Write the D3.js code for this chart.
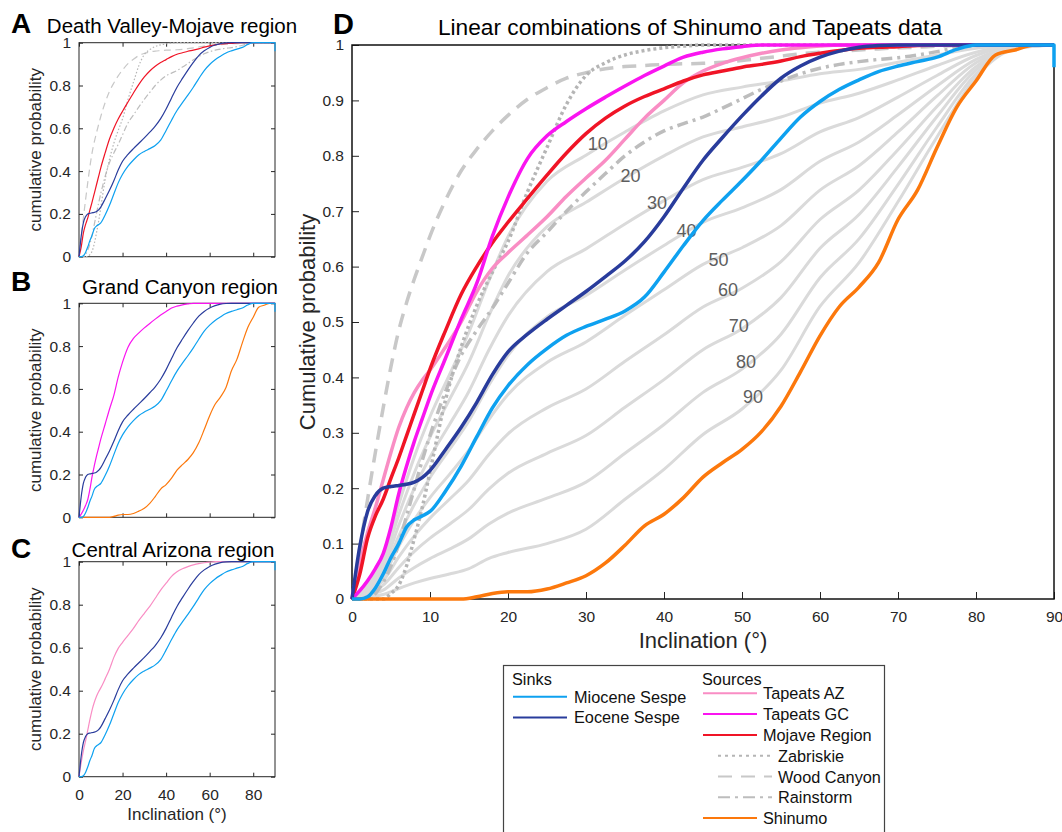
<!DOCTYPE html>
<html>
<head>
<meta charset="utf-8">
<script src="https://cdn.jsdelivr.net/npm/d3@7"></script>
<style>
  body { margin: 0; background: #fff; }
  svg text { font-family: "Liberation Sans", Arial, Helvetica, sans-serif; }
</style>
</head>
<body>
<svg id="chart" width="1062" height="832"></svg>
<script>
// inclination grid (degrees) for the measured CDFs
var inclination = [0,1,2,3,4,5,6,7,8,9,10,12,14,16,18,20,22.5,25,27.5,30,32.5,35,37.5,40,42.5,45,47.5,50,52.5,55,57.5,60,62.5,65,67.5,70,72.5,75,77.5,80,82.5,85,87.5,90];

// sinks
var mioceneSespe = [0,0,0.004,0.02,0.045,0.075,0.1,0.13,0.143,0.15,0.158,0.195,0.24,0.293,0.345,0.385,0.423,0.452,0.476,0.492,0.505,0.52,0.545,0.59,0.638,0.683,0.72,0.755,0.792,0.832,0.87,0.898,0.92,0.937,0.952,0.962,0.97,0.978,0.992,1,1,1,1,1];
var mioceneEnd = 0.96;
var eoceneSespe = [0,0.095,0.158,0.187,0.2,0.203,0.205,0.207,0.211,0.219,0.232,0.27,0.31,0.355,0.405,0.446,0.478,0.505,0.53,0.555,0.582,0.61,0.645,0.69,0.742,0.792,0.833,0.872,0.908,0.94,0.962,0.978,0.989,0.996,0.999,1,1,1,1,1,1,1,1,1];

// sources
var tapeatsAZ = [0,0.065,0.12,0.165,0.215,0.265,0.31,0.345,0.373,0.395,0.413,0.455,0.5,0.555,0.597,0.625,0.657,0.69,0.727,0.76,0.792,0.83,0.868,0.9,0.932,0.953,0.967,0.977,0.985,0.991,0.995,0.998,1,1,1,1,1,1,1,1,1,1,1,1];
var tapeatsGC = [0,0.015,0.033,0.055,0.082,0.13,0.19,0.24,0.285,0.325,0.365,0.435,0.505,0.57,0.655,0.725,0.795,0.836,0.862,0.885,0.906,0.926,0.945,0.962,0.978,0.987,0.993,0.997,1,1,1,1,1,1,1,1,1,1,1,1,1,1,1,1];
var mojaveRegion = [0,0.045,0.11,0.15,0.18,0.218,0.255,0.295,0.335,0.375,0.415,0.485,0.55,0.6,0.643,0.68,0.723,0.765,0.805,0.84,0.868,0.89,0.907,0.921,0.935,0.946,0.953,0.96,0.965,0.971,0.979,0.985,0.99,0.994,0.996,0.997,0.999,1,1,1,1,1,1,1];
var zabriskie = [0,0,0,0,0,0.01,0.025,0.06,0.11,0.165,0.23,0.36,0.455,0.53,0.59,0.645,0.735,0.815,0.893,0.945,0.968,0.982,0.99,0.995,0.998,1,1,1,1,1,1,1,1,1,1,1,1,1,1,1,1,1,1,1];
var woodCanyon = [0,0.09,0.18,0.265,0.345,0.42,0.485,0.535,0.578,0.617,0.655,0.72,0.773,0.812,0.845,0.873,0.902,0.923,0.94,0.95,0.957,0.961,0.963,0.965,0.966,0.967,0.969,0.972,0.976,0.98,0.984,0.987,0.989,0.991,0.993,0.995,0.996,0.998,0.999,1,1,1,1,1];
var rainstorm = [0,0,0,0.01,0.03,0.06,0.1,0.15,0.2,0.25,0.295,0.375,0.44,0.485,0.525,0.57,0.625,0.662,0.7,0.735,0.768,0.8,0.825,0.845,0.858,0.87,0.886,0.903,0.92,0.935,0.948,0.958,0.965,0.97,0.974,0.977,0.982,0.988,0.995,0.999,1,1,1,1];
var shinumo = [0,0,0,0,0,0,0,0,0,0,0,0,0,0.004,0.01,0.013,0.013,0.018,0.029,0.042,0.065,0.097,0.132,0.153,0.183,0.22,0.246,0.27,0.302,0.348,0.41,0.475,0.528,0.563,0.607,0.685,0.738,0.815,0.887,0.935,0.982,0.991,1,1];

// linear combinations of Shinumo and Tapeats (percent Shinumo)
var mixInclination = [0,2,4,6,8,10,12.5,15,17.5,20,25,30,35,40,45,50,55,60,65,70,75,80,85,90];
var mix10 = [0,0.032,0.074,0.171,0.257,0.329,0.405,0.482,0.573,0.654,0.754,0.801,0.843,0.881,0.91,0.924,0.935,0.948,0.956,0.969,0.982,0.994,0.999,1];
var mix20 = [0,0.028,0.066,0.152,0.228,0.292,0.36,0.428,0.51,0.583,0.672,0.716,0.76,0.8,0.834,0.852,0.87,0.895,0.913,0.937,0.963,0.987,0.998,1];
var mix30 = [0,0.025,0.057,0.133,0.2,0.256,0.315,0.375,0.448,0.511,0.591,0.632,0.677,0.719,0.757,0.779,0.804,0.843,0.869,0.906,0.945,0.981,0.998,1];
var mix40 = [0,0.021,0.049,0.114,0.171,0.219,0.27,0.322,0.385,0.44,0.509,0.548,0.594,0.638,0.68,0.706,0.739,0.79,0.825,0.874,0.926,0.974,0.997,1];
var mix50 = [0,0.018,0.041,0.095,0.143,0.183,0.225,0.269,0.323,0.369,0.427,0.464,0.512,0.558,0.604,0.634,0.674,0.738,0.782,0.843,0.908,0.968,0.996,1];
var mix60 = [0,0.014,0.033,0.076,0.114,0.146,0.18,0.215,0.26,0.298,0.345,0.379,0.429,0.477,0.527,0.561,0.609,0.685,0.738,0.811,0.889,0.961,0.995,1];
var mix70 = [0,0.011,0.025,0.057,0.086,0.11,0.135,0.162,0.198,0.227,0.263,0.295,0.346,0.396,0.45,0.488,0.544,0.633,0.694,0.78,0.871,0.955,0.994,1];
var mix80 = [0,0.007,0.016,0.038,0.057,0.073,0.09,0.109,0.135,0.155,0.182,0.211,0.263,0.315,0.373,0.415,0.478,0.58,0.65,0.748,0.852,0.948,0.994,1];
var mix90 = [0,0.004,0.008,0.019,0.029,0.037,0.045,0.055,0.073,0.084,0.1,0.126,0.18,0.234,0.297,0.343,0.413,0.528,0.607,0.717,0.834,0.942,0.993,1];
var mixLabels = ["10","20","30","40","50","60","70","80","90"];
var mixLabelIncl = [31.5,35.7,39.1,42.9,47,48.2,49.6,50.5,51.4];
var mixLabelProb = [0.822,0.765,0.715,0.666,0.613,0.558,0.493,0.429,0.365];

// ticks
var probTicksD = [0,0.1,0.2,0.3,0.4,0.5,0.6,0.7,0.8,0.9,1];
var inclTicksD = [0,10,20,30,40,50,60,70,80,90];
var probTicksSmall = [0,0.2,0.4,0.6,0.8,1];
var inclTicksSmall = [0,20,40,60,80];

var legendSinks = ["miocene","eocene"];
var legendSources = ["tapeatsAZ","tapeatsGC","mojave","zabriskie","woodCanyon","rainstorm","shinumo"];

var series = {
  miocene:   { name: "Miocene Sespe", values: mioceneSespe, color: "#0ea1f0", gray: false },
  eocene:    { name: "Eocene Sespe",  values: eoceneSespe,  color: "#293c9c", gray: false },
  tapeatsAZ: { name: "Tapeats AZ",    values: tapeatsAZ,    color: "#f98dc4", gray: false },
  tapeatsGC: { name: "Tapeats GC",    values: tapeatsGC,    color: "#fa14f0", gray: false },
  mojave:    { name: "Mojave Region", values: mojaveRegion, color: "#f01426", gray: false },
  zabriskie: { name: "Zabriskie",     values: zabriskie,    color: "#b5b5b5", gray: true, dash: [3, 3],  dashS: [1.5, 2] },
  woodCanyon:{ name: "Wood Canyon",   values: woodCanyon,   color: "#c8c8c8", gray: true, dash: [14, 9], dashS: [7, 4.5] },
  rainstorm: { name: "Rainstorm",     values: rainstorm,    color: "#bdbdbd", gray: true, dash: [11, 5, 3, 5], dashS: [6, 2.5, 1.5, 2.5] },
  shinumo:   { name: "Shinumo",       values: shinumo,      color: "#fc780c", gray: false }
};
var mixes = [mix10, mix20, mix30, mix40, mix50, mix60, mix70, mix80, mix90];

var svg = d3.select("#chart");

function pairs(xs, ys) {
  return xs.map(function (d, i) { return [d, ys[i]]; });
}

function drawPanel(p) {
  var g = svg.append("g");
  var x = d3.scaleLinear().domain([0, 90]).range([p.left, p.right]);
  var y = d3.scaleLinear().domain([0, 1]).range([p.bottom, p.top]);
  var fmt = d3.format("~g");

  // axes (ticks point inward)
  var ax = g.append("g").attr("transform", "translate(" + p.left + ",0)")
    .call(d3.axisLeft(y).tickValues(p.probTicks).tickSize(-p.tick).tickSizeOuter(0)
      .tickPadding(p.padY).tickFormat(fmt));
  var bx = g.append("g").attr("transform", "translate(0," + p.bottom + ")")
    .call(d3.axisBottom(x).tickValues(p.inclTicks).tickSize(-p.tick).tickSizeOuter(0)
      .tickPadding(p.padX).tickFormat(p.xLabels ? fmt : function () { return ""; }));
  var axes = [ax, bx];
  if (p.boxTicks) {
    axes.push(g.append("g").attr("transform", "translate(" + p.right + ",0)")
      .call(d3.axisRight(y).tickValues(p.probTicks).tickSize(-p.tick).tickSizeOuter(0).tickFormat("")));
    axes.push(g.append("g").attr("transform", "translate(0," + p.top + ")")
      .call(d3.axisTop(x).tickValues(p.inclTicks).tickSize(-p.tick).tickSizeOuter(0).tickFormat("")));
  }
  axes.forEach(function (a) {
    a.select(".domain").remove();
    a.selectAll(".tick line").attr("stroke", "#262626").attr("stroke-width", 1);
    a.selectAll(".tick text").attr("fill", "#262626").style("font-size", p.tickFont + "px");
  });
  g.append("rect")
    .attr("x", p.left).attr("y", p.top)
    .attr("width", p.right - p.left).attr("height", p.bottom - p.top)
    .attr("fill", "none").attr("stroke", p.boxColor).attr("stroke-width", p.boxWidth);

  var line = d3.line()
    .x(function (d) { return x(d[0]); })
    .y(function (d) { return y(d[1]); })
    .curve(d3.curveMonotoneX);

  if (p.mixes) {
    mixes.forEach(function (m) {
      g.append("path").datum(pairs(mixInclination, m))
        .attr("fill", "none").attr("stroke", "#dadada").attr("stroke-width", 3)
        .attr("stroke-linejoin", "round").attr("d", line);
    });
    mixLabels.forEach(function (t, i) {
      g.append("text").attr("x", x(mixLabelIncl[i])).attr("y", y(mixLabelProb[i]))
        .attr("dy", "0.36em").attr("text-anchor", "middle")
        .attr("fill", "#5e5e5e").style("font-size", "18px").text(t);
    });
  }

  p.keys.forEach(function (k) {
    var s = series[k];
    var d = line(pairs(inclination, s.values));
    if (k === "miocene") d += "L" + x(90) + "," + y(mioceneEnd);
    var path = g.append("path").attr("d", d)
      .attr("fill", "none").attr("stroke", s.color)
      .attr("stroke-width", p.lineWidth).attr("stroke-linejoin", "round");
    if (s.dash) path.attr("stroke-dasharray", (p.big ? s.dash : s.dashS).join(","));
  });

  // labels
  g.append("text").attr("x", p.letterX).attr("y", p.letterY)
    .style("font-size", p.letterFont + "px").style("font-weight", "bold").attr("fill", "#000").text(p.letter);
  g.append("text").attr("x", p.titleX).attr("y", p.titleY).attr("text-anchor", "middle")
    .style("font-size", p.titleFont + "px").attr("fill", "#000").text(p.title);
  g.append("text")
    .attr("transform", "translate(" + p.yLabelX + "," + ((p.top + p.bottom) / 2) + ") rotate(-90)")
    .attr("text-anchor", "middle").style("font-size", p.labelFont + "px").attr("fill", "#262626")
    .text(p.yLabel);
  if (p.xLabel) {
    g.append("text").attr("x", (p.left + p.right) / 2).attr("y", p.xLabelY)
      .attr("text-anchor", "middle").style("font-size", p.labelFont + "px").attr("fill", "#262626")
      .text(p.xLabel);
  }
}

var small = {
  left: 79, right: 275, probTicks: probTicksSmall, inclTicks: inclTicksSmall,
  tick: 4, padY: 8, padX: 12, tickFont: 15.5, boxTicks: true, boxColor: "#262626", boxWidth: 1,
  lineWidth: 1.2, big: false, letterX: 11, letterFont: 28, titleFont: 20.5,
  yLabelX: 41, labelFont: 17, yLabel: "cumulative probability"
};

drawPanel(Object.assign({}, small, {
  top: 42.7, bottom: 256.7, letter: "A", letterY: 33, titleX: 172, titleY: 33,
  title: "Death Valley-Mojave region",
  keys: ["rainstorm", "woodCanyon", "zabriskie", "mojave", "eocene", "miocene"]
}));
drawPanel(Object.assign({}, small, {
  top: 303.3, bottom: 517.3, letter: "B", letterY: 291, titleX: 180, titleY: 293.5,
  title: "Grand Canyon region",
  keys: ["shinumo", "tapeatsGC", "eocene", "miocene"]
}));
drawPanel(Object.assign({}, small, {
  top: 561.7, bottom: 776.7, letter: "C", letterY: 558, titleX: 173, titleY: 556.5,
  title: "Central Arizona region", xLabels: true, xLabel: "Inclination (°)", xLabelY: 820,
  keys: ["tapeatsAZ", "eocene", "miocene"]
}));
drawPanel({
  left: 352, right: 1054, top: 45, bottom: 599,
  probTicks: probTicksD, inclTicks: inclTicksD, tick: 7, padY: 8, padX: 12, tickFont: 15.5,
  boxTicks: false, boxColor: "#111", boxWidth: 1.5, lineWidth: 3.5, big: true, mixes: true,
  letter: "D", letterX: 333, letterY: 34, letterFont: 29,
  title: "Linear combinations of Shinumo and Tapeats data", titleX: 690, titleY: 35, titleFont: 22.7,
  yLabel: "Cumulative probability", yLabelX: 315, labelFont: 22,
  xLabels: true, xLabel: "Inclination (°)", xLabelY: 648,
  keys: ["woodCanyon", "rainstorm", "zabriskie", "shinumo", "tapeatsAZ", "mojave", "tapeatsGC", "eocene", "miocene"]
});

// legend
var lg = svg.append("g");
lg.append("rect").attr("x", 503.5).attr("y", 665.5).attr("width", 381).attr("height", 200)
  .attr("fill", "#fff").attr("stroke", "#444").attr("stroke-width", 1.2);
lg.append("text").attr("x", 512).attr("y", 685).style("font-size", "16.3px").attr("fill", "#111").text("Sinks");
lg.append("text").attr("x", 702).attr("y", 685).style("font-size", "16.3px").attr("fill", "#111").text("Sources");

function legendItem(k, x1, x2, tx, base) {
  var s = series[k];
  var l = lg.append("line").attr("x1", x1).attr("x2", x2).attr("y1", base - 6).attr("y2", base - 6)
    .attr("stroke", s.color).attr("stroke-width", 2);
  if (s.dash) l.attr("stroke-dasharray", s.dashS.map(function (v) { return v * 2; }).join(","));
  lg.append("text").attr("x", tx).attr("y", base).style("font-size", "16.3px").attr("fill", "#111").text(s.name);
}
legendSinks.forEach(function (k, i) { legendItem(k, 513, 567, 574, 702.7 + i * 20.7); });
legendSources.forEach(function (k, i) {
  var base = 699.3 + i * 20.8;
  if (series[k].gray) legendItem(k, 718, 772, 778, base);
  else legendItem(k, 703, 757, 763, base);
});
</script>
</body>
</html>
